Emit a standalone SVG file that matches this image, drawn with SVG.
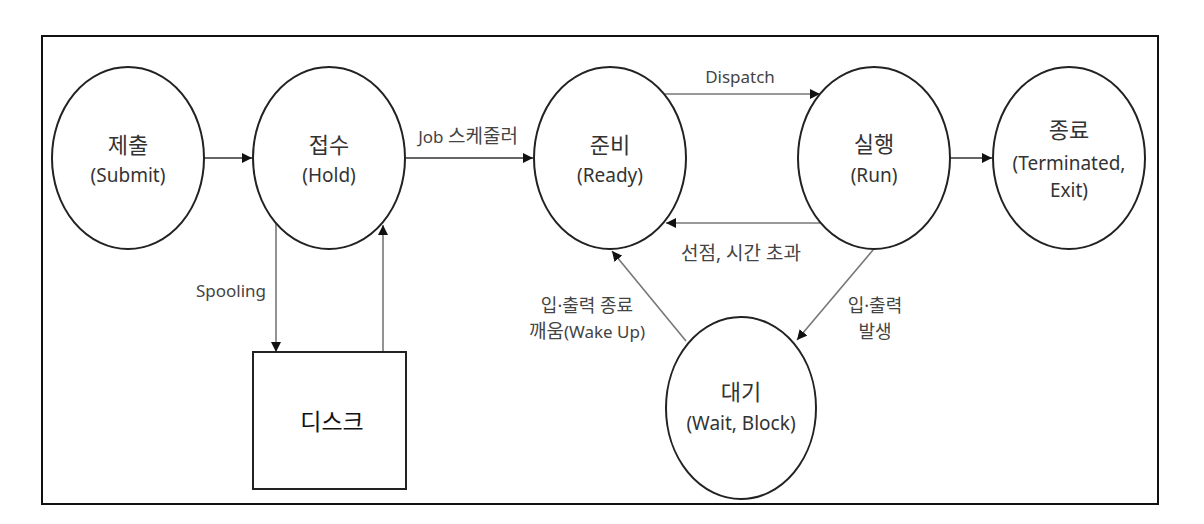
<svg xmlns="http://www.w3.org/2000/svg" width="1204" height="524" viewBox="0 0 1204 524">
<defs>
<marker id="ah" viewBox="0 0 10 10" refX="10" refY="5" markerWidth="10" markerHeight="10" markerUnits="userSpaceOnUse" orient="auto">
<path d="M0,0 L10,5 L0,10 Z" fill="#111"/>
</marker>
</defs>
<style>
.node{fill:#fff;stroke:#222;stroke-width:2}
.t{font-family:"Noto Sans","Noto Sans CJK KR",sans-serif;font-size:19px;fill:#333;text-anchor:middle}
.k{font-size:22px}
.l{font-family:"Noto Sans","Noto Sans CJK KR",sans-serif;font-size:17px;fill:#444;text-anchor:middle}
.lk{font-size:19px}
.c{fill:none;stroke:#777;stroke-width:1.6;marker-end:url(#ah)}
.c2{fill:none;stroke:#666;stroke-width:2.2;marker-end:url(#ah)}
</style>
<rect x="0" y="0" width="1204" height="524" fill="#fff"/>
<rect x="42" y="36" width="1116" height="468" fill="none" stroke="#111" stroke-width="2"/>
<g id="connectors">
<line class="c2" x1="204" y1="158" x2="252" y2="158"/>
<line class="c2" x1="405" y1="158" x2="533" y2="158"/>
<line class="c" x1="665" y1="94" x2="820" y2="94"/>
<line class="c" x1="820" y1="223" x2="666" y2="223"/>
<line class="c2" x1="950" y1="158" x2="992" y2="158"/>
<line class="c" x1="276" y1="223" x2="276" y2="352"/>
<line class="c" x1="383" y1="352" x2="383" y2="225"/>
<line class="c" x1="686" y1="341" x2="612" y2="251"/>
<line class="c" x1="873" y1="250" x2="797" y2="340"/>
</g>
<g id="labels">
<text class="l" x="468" y="143">Job <tspan class="lk">스케줄러</tspan></text>
<text class="l" x="740" y="83">Dispatch</text>
<text class="l lk" x="741" y="260">선점, 시간 초과</text>
<text class="l" x="231" y="297">Spooling</text>
<text class="l" x="587" y="312" style="font-size:18px">입·출력 종료</text>
<text class="l" x="587" y="338"><tspan class="lk">깨움</tspan>(Wake Up)</text>
<text class="l" x="875" y="312" style="font-size:18px">입·출력</text>
<text class="l" x="875" y="338" style="font-size:18px">발생</text>
</g>
<g id="submit">
<ellipse class="node" cx="128" cy="158" rx="76" ry="91"/>
<text class="t k" x="128" y="153">제출</text>
<text class="t" x="128" y="182">(Submit)</text>
</g>
<g id="hold">
<ellipse class="node" cx="329" cy="158" rx="76" ry="91"/>
<text class="t k" x="329" y="153">접수</text>
<text class="t" x="329" y="182">(Hold)</text>
</g>
<g id="ready">
<ellipse class="node" cx="610" cy="158" rx="76" ry="91"/>
<text class="t k" x="610" y="153">준비</text>
<text class="t" x="610" y="182">(Ready)</text>
</g>
<g id="run">
<ellipse class="node" cx="874" cy="158" rx="76" ry="91"/>
<text class="t k" x="874" y="152">실행</text>
<text class="t" x="874" y="182">(Run)</text>
</g>
<g id="exit">
<ellipse class="node" cx="1069" cy="158" rx="76" ry="91"/>
<text class="t k" x="1069" y="138">종료</text>
<text class="t" x="1069" y="170">(Terminated,</text>
<text class="t" x="1069" y="197">Exit)</text>
</g>
<g id="wait">
<ellipse class="node" cx="741" cy="408" rx="75" ry="91"/>
<text class="t k" x="741" y="400">대기</text>
<text class="t" x="741" y="430">(Wait, Block)</text>
</g>
<g id="disk">
<rect x="253" y="352" width="153" height="137" fill="#fff" stroke="#222" stroke-width="2"/>
<text class="t" x="332" y="430" style="font-size:23px;fill:#111">디스크</text>
</g>
</svg>
